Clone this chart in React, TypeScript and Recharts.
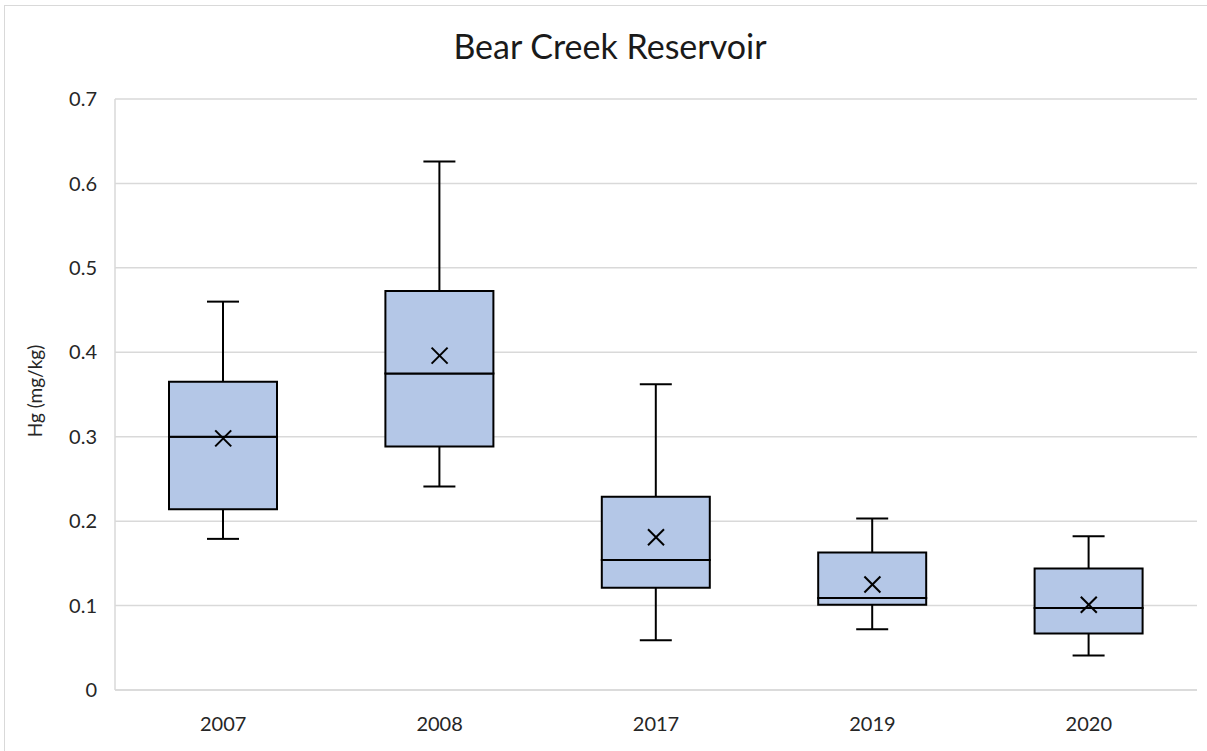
import React from "react";
import { ComposedChart, Bar, Scatter, XAxis, YAxis, CartesianGrid } from "recharts";

const years = ["2007", "2008", "2017", "2019", "2020"];
const minVals = [0.179, 0.241, 0.059, 0.072, 0.041];
const q1Vals = [0.214, 0.2885, 0.121, 0.101, 0.067];
const medianVals = [0.3, 0.375, 0.154, 0.109, 0.097];
const q3Vals = [0.365, 0.4725, 0.229, 0.163, 0.144];
const maxVals = [0.46, 0.626, 0.362, 0.203, 0.182];
const meanVals = [0.298, 0.396, 0.181, 0.125, 0.101];
const yTicks = [0, 0.1, 0.2, 0.3, 0.4, 0.5, 0.6, 0.7];

const data = years.map((year, i) => ({
  year,
  base: minVals[i],
  whiskerLow: q1Vals[i] - minVals[i],
  boxLow: medianVals[i] - q1Vals[i],
  boxHigh: q3Vals[i] - medianVals[i],
  whiskerHigh: maxVals[i] - q3Vals[i],
  mean: meanVals[i],
}));

const FONT = "Lato, 'Open Sans', sans-serif";
const CAP = 16;

function WhiskerLow(props: any) {
  const { x, y, width, height } = props;
  const cx = x + width / 2;
  return (
    <g stroke="#000" strokeWidth={2}>
      <line x1={cx} y1={y} x2={cx} y2={y + height} />
      <line x1={cx - CAP} y1={y + height} x2={cx + CAP} y2={y + height} />
    </g>
  );
}

function WhiskerHigh(props: any) {
  const { x, y, width, height } = props;
  const cx = x + width / 2;
  return (
    <g stroke="#000" strokeWidth={2}>
      <line x1={cx} y1={y} x2={cx} y2={y + height} />
      <line x1={cx - CAP} y1={y} x2={cx + CAP} y2={y} />
    </g>
  );
}

function MeanMark(props: any) {
  const { cx, cy } = props;
  const s = 8;
  return (
    <g stroke="#000" strokeWidth={2}>
      <line x1={cx - s} y1={cy - s} x2={cx + s} y2={cy + s} />
      <line x1={cx - s} y1={cy + s} x2={cx + s} y2={cy - s} />
    </g>
  );
}

export default function App() {
  return (
    <div style={{ position: "absolute", left: 0, top: 0, width: 1207, height: 751, background: "#fff", overflow: "hidden", fontFamily: FONT }}>
      <div style={{ position: "absolute", left: 4, top: 5, width: 1215, height: 760, border: "1px solid #D9D9D9" }} />
      <ComposedChart
        width={1207}
        height={751}
        data={data}
        margin={{ top: 99, right: 10, bottom: 31, left: 0 }}
        style={{ position: "absolute", left: 0, top: 0 }}
      >
        <CartesianGrid vertical={false} stroke="#D9D9D9" strokeWidth={1.5} />
        <XAxis
          dataKey="year"
          height={30}
          axisLine={{ stroke: "#D9D9D9", strokeWidth: 1.5 }}
          tickLine={false}
          tickMargin={21}
          tick={{ fill: "#262626", fontSize: 20, fontFamily: FONT }}
        />
        <YAxis
          width={115}
          domain={[0, 0.7]}
          ticks={yTicks}
          axisLine={{ stroke: "#D9D9D9", strokeWidth: 1.5 }}
          tickLine={false}
          tickMargin={12}
          tickFormatter={(v: number) => (v === 0 ? "0" : v.toFixed(1))}
          tick={{ fill: "#262626", fontSize: 20, fontFamily: FONT }}
        />
        <Bar dataKey="base" stackId="box" barSize={108} fill="none" stroke="none" isAnimationActive={false} />
        <Bar dataKey="whiskerLow" stackId="box" barSize={108} shape={<WhiskerLow />} isAnimationActive={false} />
        <Bar dataKey="boxLow" stackId="box" barSize={108} fill="#B4C7E7" stroke="#000" strokeWidth={2} isAnimationActive={false} />
        <Bar dataKey="boxHigh" stackId="box" barSize={108} fill="#B4C7E7" stroke="#000" strokeWidth={2} isAnimationActive={false} />
        <Bar dataKey="whiskerHigh" stackId="box" barSize={108} shape={<WhiskerHigh />} isAnimationActive={false} />
        <Scatter dataKey="mean" shape={<MeanMark />} isAnimationActive={false} />
      </ComposedChart>
      <svg width={1207} height={751} style={{ position: "absolute", left: 0, top: 0, pointerEvents: "none" }}>
        <text x={610} y={59} textAnchor="middle" fontSize={34} fontFamily={FONT} fill="#1a1a1a">
          Bear Creek Reservoir
        </text>
        <text transform="translate(41.5,391) rotate(-90)" textAnchor="middle" fontSize={19} fontFamily={FONT} fill="#262626">
          Hg (mg/kg)
        </text>
      </svg>
    </div>
  );
}
